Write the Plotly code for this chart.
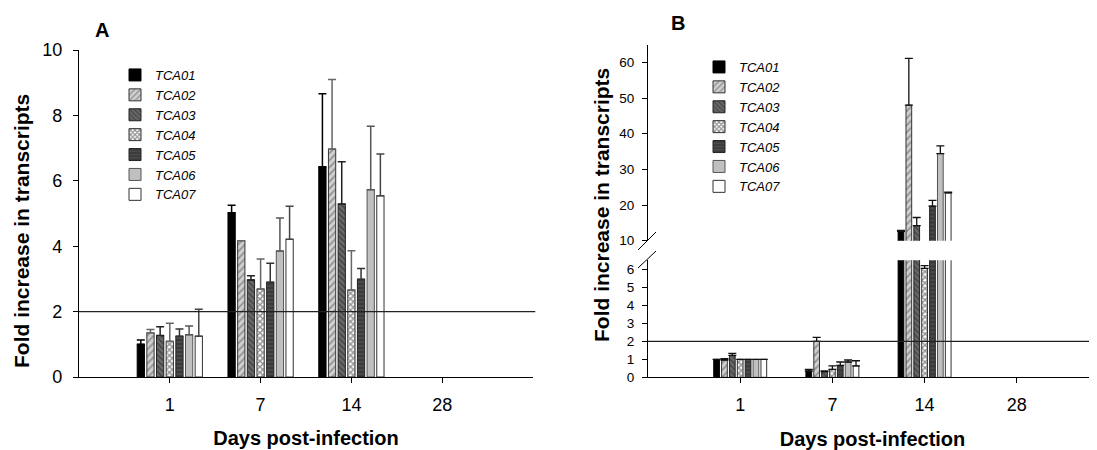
import plotly.graph_objects as go

# ---------------- data ----------------
days = ["1", "7", "14", "28"]
series = ["TCA01", "TCA02", "TCA03", "TCA04", "TCA05", "TCA06", "TCA07"]

# Panel A values (fold increase) and upper error
a_tca01 = [1.00, 5.02, 6.43, None]
a_tca02 = [1.35, 4.17, 6.97, None]
a_tca03 = [1.27, 2.97, 5.29, None]
a_tca04 = [1.09, 2.69, 2.66, None]
a_tca05 = [1.25, 2.90, 2.99, None]
a_tca06 = [1.29, 3.85, 5.73, None]
a_tca07 = [1.25, 4.21, 5.54, None]
a_err01 = [0.13, 0.23, 2.23, None]
a_err02 = [0.10, 0.00, 2.13, None]
a_err03 = [0.27, 0.13, 1.29, None]
a_err04 = [0.55, 0.92, 1.20, None]
a_err05 = [0.22, 0.58, 0.33, None]
a_err06 = [0.27, 1.01, 1.94, None]
a_err07 = [0.82, 1.01, 1.28, None]

# Panel B values and upper error
b_tca01 = [1.00, 0.35, 12.6, None]
b_tca02 = [0.96, 2.00, 48.0, None]
b_tca03 = [1.22, 0.31, 14.2, None]
b_tca04 = [1.00, 0.44, 6.05, None]
b_tca05 = [1.00, 0.66, 19.7, None]
b_tca06 = [1.00, 0.85, 34.4, None]
b_tca07 = [1.00, 0.63, 23.4, None]
b_err01 = [0.00, 0.09, 0.30, None]
b_err02 = [0.08, 0.22, 13.1, None]
b_err03 = [0.11, 0.05, 2.30, None]
b_err04 = [0.00, 0.20, 0.15, None]
b_err05 = [0.00, 0.19, 1.60, None]
b_err06 = [0.00, 0.11, 2.20, None]
b_err07 = [0.00, 0.29, 0.20, None]

threshold = 2

a_vals = [a_tca01, a_tca02, a_tca03, a_tca04, a_tca05, a_tca06, a_tca07]
a_errs = [a_err01, a_err02, a_err03, a_err04, a_err05, a_err06, a_err07]
b_vals = [b_tca01, b_tca02, b_tca03, b_tca04, b_tca05, b_tca06, b_tca07]
b_errs = [b_err01, b_err02, b_err03, b_err04, b_err05, b_err06, b_err07]

# ---------------- styles ----------------
styles = [
    dict(color="#000000", pattern=dict(shape="")),
    dict(color="#d0d0d0", pattern=dict(shape="/", fgcolor="#555555", bgcolor="#d0d0d0", size=5, solidity=0.35, fillmode="overlay")),
    dict(color="#6a6a6a", pattern=dict(shape="\\", fgcolor="#222222", bgcolor="#6a6a6a", size=4, solidity=0.4, fillmode="overlay")),
    dict(color="#ffffff", pattern=dict(shape="x", fgcolor="#222222", bgcolor="#ffffff", size=4, solidity=0.6, fillmode="overlay")),
    dict(color="#4a4a4a", pattern=dict(shape="-", fgcolor="#1a1a1a", bgcolor="#4a4a4a", size=4, solidity=0.35, fillmode="overlay")),
    dict(color="#c0c0c0", pattern=dict(shape="")),
    dict(color="#ffffff", pattern=dict(shape="")),
]
err_colors = ["#000000", "#666666", "#222222", "#666666", "#333333", "#555555", "#444444"]
line_colors = ["#000000", "#333333", "#222222", "#333333", "#222222", "#555555", "#333333"]

# page offset of the plot (default body margin of the html page)
OFF = 8
PAGE_W, PAGE_H = 1097, 450
W, H = PAGE_W - OFF, PAGE_H - OFF
FONT = "Liberation Sans, Arial, sans-serif"

fig = go.Figure()

# bar geometry (category units)
a_slot, a_w = 0.1064, 0.080
b_slot, b_w = 0.0854, 0.062

for i, name in enumerate(series):
    st = styles[i]
    marker = dict(color=st["color"], pattern=st["pattern"],
                  line=dict(color=line_colors[i], width=1))
    off_a = -3 * a_slot - a_w / 2 + i * a_slot
    fig.add_trace(go.Bar(
        x=days, y=a_vals[i], name=name, xaxis="x", yaxis="y",
        offset=off_a, width=a_w, marker=marker, legend="legend",
        error_y=dict(type="data", array=a_errs[i], symmetric=False,
                     arrayminus=[0, 0, 0, 0], color=err_colors[i],
                     thickness=1.5, width=4),
    ))
    off_b = -3 * b_slot - b_w / 2 + i * b_slot
    for yax, show in (("y2", True), ("y3", False)):
        fig.add_trace(go.Bar(
            x=days, y=b_vals[i], name=name, xaxis="x2", yaxis=yax,
            offset=off_b, width=b_w, marker=marker, legend="legend2",
            showlegend=show,
            error_y=dict(type="data", array=b_errs[i], symmetric=False,
                         arrayminus=[0, 0, 0, 0], color="#111111",
                         thickness=1.3, width=4),
        ))

def px_x(x):
    return (x - OFF) / W

def px_y(y):
    return 1 - (y - OFF) / H

axis_common = dict(showline=True, linecolor="#000000", linewidth=1.2,
                   ticks="outside", ticklen=5, tickcolor="#000000",
                   showgrid=False, zeroline=False, automargin=False)

fig.update_layout(
    width=W, height=H,
    margin=dict(l=0, r=0, t=0, b=0, autoexpand=False),
    paper_bgcolor="white", plot_bgcolor="rgba(0,0,0,0)",
    barmode="overlay",
    font=dict(family=FONT, color="#000000"),
    showlegend=True,
    xaxis=dict(domain=[px_x(79), px_x(533)], anchor="y", type="category",
               categoryorder="array", categoryarray=days, range=[-1, 4],
               tickfont=dict(size=18), ticklabelstandoff=6,
               title=dict(text="<b>Days post-infection</b>", font=dict(size=20), standoff=17),
               **axis_common),
    yaxis=dict(domain=[px_y(377), px_y(50)], anchor="x", range=[0, 10],
               tickvals=[0, 2, 4, 6, 8, 10], tickfont=dict(size=18),
               ticklabelstandoff=7, **axis_common),
    xaxis2=dict(domain=[px_x(648), 1.0], anchor="y2", type="category",
                categoryorder="array", categoryarray=days, range=[-1, 3.87],
                tickfont=dict(size=18), ticklabelstandoff=6,
                title=dict(text="<b>Days post-infection</b>", font=dict(size=20), standoff=17),
                **axis_common),
    yaxis2=dict(domain=[px_y(377.3), px_y(260.3)], anchor="x2", range=[0, 6.5],
                tickvals=[0, 1, 2, 3, 4, 5, 6], tickfont=dict(size=13.5),
                ticklabelstandoff=5, **axis_common),
    yaxis3=dict(domain=[px_y(240.7), px_y(44.5)], anchor="x2", range=[10, 65],
                tickvals=[10, 20, 30, 40, 50, 60], tickfont=dict(size=13.5),
                ticklabelstandoff=5, **axis_common),
    legend=dict(x=px_x(115), y=px_y(60), xanchor="left", yanchor="top",
                bgcolor="rgba(0,0,0,0)", font=dict(size=13, style="italic"),
                tracegroupgap=0, itemwidth=30),
    legend2=dict(x=px_x(699), y=px_y(52), xanchor="left", yanchor="top",
                 bgcolor="rgba(0,0,0,0)", font=dict(size=13, style="italic"),
                 tracegroupgap=0, itemwidth=30),
)

# threshold lines
fig.add_shape(type="line", xref="x domain", yref="y", x0=0, x1=1.005,
              y0=threshold, y1=threshold, line=dict(color="#222222", width=1.2))
fig.add_shape(type="line", xref="x2 domain", yref="y2", x0=0, x1=1,
              y0=threshold, y1=threshold, line=dict(color="#222222", width=1.2))

# axis break marks
for (x0, y0, x1, y1) in [(638, 268, 656, 251), (638, 250, 656, 232)]:
    fig.add_shape(type="line", xref="paper", yref="paper",
                  x0=px_x(x0), y0=px_y(y0), x1=px_x(x1), y1=px_y(y1),
                  line=dict(color="#000000", width=1))

# y-axis titles and panel labels
fig.add_annotation(text="<b>Fold increase in transcripts</b>", xref="paper", yref="paper",
                   x=px_x(21), y=px_y(231), textangle=-90, showarrow=False,
                   font=dict(size=21), xanchor="center", yanchor="middle")
fig.add_annotation(text="<b>Fold increase in transcripts</b>", xref="paper", yref="paper",
                   x=px_x(601), y=px_y(205), textangle=-90, showarrow=False,
                   font=dict(size=21), xanchor="center", yanchor="middle")
fig.add_annotation(text="<b>A</b>", xref="paper", yref="paper", x=px_x(102), y=px_y(30),
                   showarrow=False, font=dict(size=20), xanchor="center", yanchor="middle")
fig.add_annotation(text="<b>B</b>", xref="paper", yref="paper", x=px_x(678), y=px_y(23),
                   showarrow=False, font=dict(size=20), xanchor="center", yanchor="middle")

fig.write_html("out.html")
